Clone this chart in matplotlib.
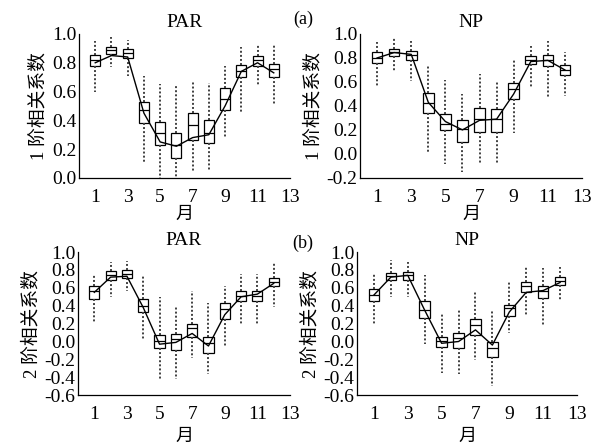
import numpy as np
import matplotlib.pyplot as plt

plt.rcParams['font.family'] = ['Liberation Serif', 'Noto Sans CJK SC']
plt.rcParams['axes.unicode_minus'] = True

months = np.arange(1, 13)

# (a) PAR - 1st order correlation
par1_q1 = [0.78, 0.86, 0.83, 0.38, 0.23, 0.14, 0.26, 0.24, 0.475, 0.70, 0.78, 0.70]
par1_med = [0.82, 0.89, 0.87, 0.47, 0.31, 0.23, 0.37, 0.31, 0.55, 0.745, 0.82, 0.755]
par1_q3 = [0.857, 0.91, 0.895, 0.53, 0.39, 0.31, 0.45, 0.40, 0.625, 0.785, 0.85, 0.79]
par1_lo = [0.60, 0.77, 0.71, 0.11, 0.0, 0.0, 0.04, 0.05, 0.28, 0.46, 0.64, 0.51]
par1_hi = [0.95, 0.98, 0.96, 0.71, 0.65, 0.64, 0.67, 0.66, 0.78, 0.91, 0.93, 0.93]
par1_fit = [0.80, 0.85, 0.84, 0.45, 0.25, 0.22, 0.28, 0.30, 0.50, 0.74, 0.80, 0.73]

# (a) NP - 1st order correlation
np1_q1 = [0.76, 0.82, 0.785, 0.34, 0.20, 0.10, 0.18, 0.185, 0.46, 0.75, 0.735, 0.66]
np1_med = [0.80, 0.85, 0.825, 0.425, 0.25, 0.21, 0.29, 0.29, 0.54, 0.785, 0.785, 0.70]
np1_q3 = [0.85, 0.875, 0.855, 0.505, 0.33, 0.28, 0.38, 0.375, 0.59, 0.815, 0.825, 0.74]
np1_lo = [0.56, 0.69, 0.61, 0.02, -0.08, -0.15, -0.075, -0.075, 0.175, 0.55, 0.47, 0.48]
np1_hi = [0.93, 0.97, 0.94, 0.74, 0.62, 0.50, 0.67, 0.60, 0.78, 0.90, 0.94, 0.85]
np1_fit = [0.80, 0.845, 0.83, 0.43, 0.27, 0.20, 0.28, 0.29, 0.50, 0.77, 0.78, 0.70]

# (b) PAR - 2nd order correlation
par2_q1 = [0.475, 0.69, 0.71, 0.325, -0.075, -0.095, 0.05, -0.125, 0.25, 0.45, 0.455, 0.62]
par2_med = [0.56, 0.74, 0.755, 0.40, 0.01, 0.026, 0.15, -0.02, 0.36, 0.51, 0.51, 0.67]
par2_q3 = [0.62, 0.785, 0.795, 0.475, 0.075, 0.085, 0.20, 0.05, 0.43, 0.56, 0.57, 0.71]
par2_lo = [0.22, 0.50, 0.56, 0.03, -0.42, -0.42, -0.19, -0.36, -0.06, 0.19, 0.18, 0.385]
par2_hi = [0.75, 0.89, 0.90, 0.73, 0.50, 0.40, 0.56, 0.43, 0.62, 0.75, 0.75, 0.88]
par2_fit = [0.55, 0.72, 0.73, 0.38, -0.03, -0.01, 0.09, -0.05, 0.30, 0.50, 0.53, 0.65]

# (b) NP - 2nd order correlation
np2_q1 = [0.455, 0.685, 0.69, 0.26, -0.065, -0.075, 0.075, -0.17, 0.28, 0.55, 0.485, 0.635]
np2_med = [0.52, 0.73, 0.74, 0.355, 0.01, 0.04, 0.19, -0.075, 0.375, 0.62, 0.56, 0.68]
np2_q3 = [0.59, 0.77, 0.78, 0.45, 0.055, 0.095, 0.25, -0.01, 0.41, 0.67, 0.62, 0.72]
np2_lo = [0.18, 0.50, 0.50, -0.03, -0.355, -0.36, -0.205, -0.50, 0.10, 0.30, 0.18, 0.45]
np2_hi = [0.77, 0.91, 0.89, 0.74, 0.31, 0.36, 0.56, 0.355, 0.67, 0.85, 0.82, 0.83]
np2_fit = [0.52, 0.72, 0.74, 0.35, -0.02, 0.0, 0.13, -0.04, 0.33, 0.55, 0.57, 0.66]

x_ticks = [1, 3, 5, 7, 9, 11, 13]

panels = [
    # rect, title, ylabel, ylim, data
    ([79 / 601, 0.602, 211 / 601, 0.322], 'PAR', '1 阶相关系数', (0.0, 1.0),
     (par1_q1, par1_med, par1_q3, par1_lo, par1_hi, par1_fit)),
    ([360 / 601, 0.602, 222 / 601, 0.322], 'NP', '1 阶相关系数', (-0.2, 1.0),
     (np1_q1, np1_med, np1_q3, np1_lo, np1_hi, np1_fit)),
    ([78 / 601, 0.116, 212 / 601, 0.320], 'PAR', '2 阶相关系数', (-0.6, 1.0),
     (par2_q1, par2_med, par2_q3, par2_lo, par2_hi, par2_fit)),
    ([357 / 601, 0.116, 220 / 601, 0.320], 'NP', '2 阶相关系数', (-0.6, 1.0),
     (np2_q1, np2_med, np2_q3, np2_lo, np2_hi, np2_fit)),
]

fig = plt.figure(figsize=(6.01, 4.47), dpi=100)

for i, (rect, title, ylab, ylim, data) in enumerate(panels):
    q1, med, q3, lo, hi, fit = data
    ax = fig.add_axes(rect)
    stats = [dict(med=m, q1=a, q3=b, whislo=l, whishi=h, fliers=[])
             for a, m, b, l, h in zip(q1, med, q3, lo, hi)]
    ax.bxp(stats, positions=months, widths=0.62, patch_artist=True,
           showcaps=False, manage_ticks=False,
           boxprops=dict(facecolor='white', edgecolor='black', linewidth=0.9),
           medianprops=dict(color='black', linewidth=0.9),
           whiskerprops=dict(color='0.25', linewidth=1.4, linestyle=(0, (1, 1.1))))
    ax.plot(months, fit, color='black', linewidth=1.0, zorder=5)

    ax.set_xlim(0, 13)
    ax.set_ylim(*ylim)
    ax.set_xticks(x_ticks)
    ax.set_yticks(np.round(np.arange(ylim[0], 1.001, 0.2), 1))
    ax.yaxis.set_major_formatter(plt.FormatStrFormatter('%.1f'))
    ax.tick_params(length=0, labelsize=14, pad=2)
    ax.tick_params(axis='x', pad=8)
    for s in ['top', 'right']:
        ax.spines[s].set_visible(False)
    for s in ['left', 'bottom']:
        ax.spines[s].set_linewidth(0.9)
    ax.set_title(title, fontsize=14, pad=5)
    ax.set_xlabel('月', fontsize=13, labelpad=0 if i < 2 else 3)
    ax.set_ylabel(ylab, fontsize=13.5, labelpad=3)

fig.text(303 / 601, 1 - 19 / 447, '(a)', fontsize=13, ha='center', va='center')
fig.text(303 / 601, 1 - 243 / 447, '(b)', fontsize=13, ha='center', va='center')

fig.savefig('out.png', dpi=100, facecolor='white')
